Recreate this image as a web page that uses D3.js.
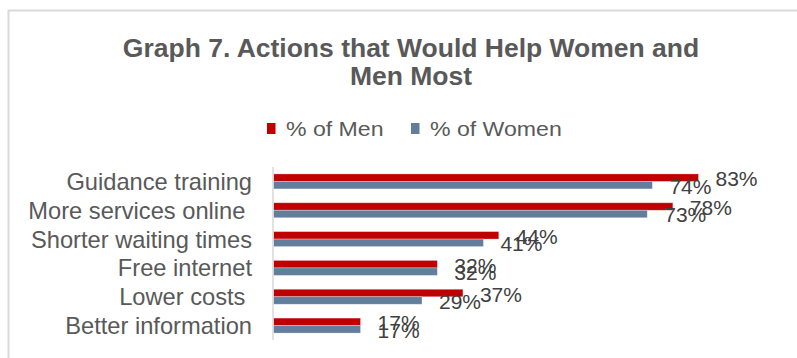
<!DOCTYPE html>
<html>
<head>
<meta charset="utf-8">
<script src="https://cdn.jsdelivr.net/npm/d3@7"></script>
<style>
  body { margin: 0; background: #fff; }
  text { font-family: "Liberation Sans", Arial, sans-serif; }
</style>
</head>
<body>
<div id="chart"></div>
<script>
const categories = ["Guidance training", "More services online ", "Shorter waiting times", "Free internet", "Lower costs ", "Better information"];
const seriesNames = ["% of Men", "% of Women"];
const menValues = [83, 78, 44, 32, 37, 17];
const womenValues = [74, 73, 41, 32, 29, 17];
const colors = ["#c00000", "#637d9c"];

const width = 797, height = 358;

const svg = d3.select("#chart").append("svg")
  .attr("width", width)
  .attr("height", height);

// chart frame
svg.append("rect")
  .attr("x", 8.5).attr("y", 10.5)
  .attr("width", 800).attr("height", 360)
  .attr("fill", "#fff")
  .attr("stroke", "#d9d9d9")
  .attr("stroke-width", 2);

// title
const title = svg.append("text")
  .attr("text-anchor", "middle")
  .attr("fill", "#595959")
  .style("font-weight", "bold")
  .style("font-size", "25px")
  .attr("transform", "translate(411,0) scale(1.06,1)");
title.append("tspan").attr("x", 0).attr("y", 57).text("Graph 7. Actions that Would Help Women and");
title.append("tspan").attr("x", 0).attr("y", 85).text("Men Most");

// legend
const legend = svg.append("g").attr("transform", "translate(267,0)");
const legendItems = legend.selectAll("g")
  .data(seriesNames)
  .enter().append("g")
  .attr("transform", (d, i) => "translate(" + (i * 144) + ",0)");
legendItems.append("rect")
  .attr("x", 0).attr("y", 123)
  .attr("width", 8.5).attr("height", 11)
  .attr("fill", (d, i) => colors[i]);
legendItems.append("text")
  .attr("transform", "translate(19,135.5) scale(1.1,1)")
  .attr("fill", "#595959")
  .style("font-size", "21px")
  .text(d => d);

// scales
const x = d3.scaleLinear().domain([0, 100]).range([273.5, 785.5]);
const y = d3.scaleBand().domain(categories).range([167, 340])
  .paddingInner(0.48).paddingOuter(0.24);
const y1 = d3.scaleBand().domain(seriesNames).range([0, y.bandwidth()]);

const rows = categories.map((c, i) => ({ cat: c, vals: [menValues[i], womenValues[i]] }));

// category labels
svg.append("g")
  .selectAll("text")
  .data(categories)
  .enter().append("text")
  .attr("transform", d => "translate(252," + (y(d) + y.bandwidth() / 2 + 8.5) + ") scale(1.03,1)")
  .attr("text-anchor", "end")
  .attr("fill", "#595959")
  .style("font-size", "23px")
  .style("white-space", "pre")
  .text(d => d);

// bars
const groups = svg.append("g")
  .selectAll("g")
  .data(rows)
  .enter().append("g")
  .attr("transform", d => "translate(0," + y(d.cat) + ")");

groups.selectAll("rect")
  .data(d => d.vals.map((v, i) => ({ key: seriesNames[i], v: v, i: i })))
  .enter().append("rect")
  .attr("x", x(0))
  .attr("y", d => y1(d.key))
  .attr("width", d => x(d.v) - x(0))
  .attr("height", y1.bandwidth())
  .attr("fill", d => colors[d.i])
  .attr("stroke", "#fff")
  .attr("stroke-opacity", 0.4)
  .attr("stroke-width", 0.75);

// data labels
groups.selectAll("text")
  .data(d => d.vals.map((v, i) => ({ key: seriesNames[i], v: v, i: i })))
  .enter().append("text")
  .attr("x", d => x(d.v) + 17)
  .attr("y", d => y1(d.key) + y1.bandwidth() / 2 + 8.5)
  .attr("fill", "#404040")
  .style("font-size", "21px")
  .text(d => d.v + "%");

// vertical axis line
svg.append("line")
  .attr("x1", x(0) - 0.5).attr("x2", x(0) - 0.5)
  .attr("y1", 167).attr("y2", 340)
  .attr("stroke", "#d9d9d9")
  .attr("stroke-width", 1.5);
</script>
</body>
</html>
